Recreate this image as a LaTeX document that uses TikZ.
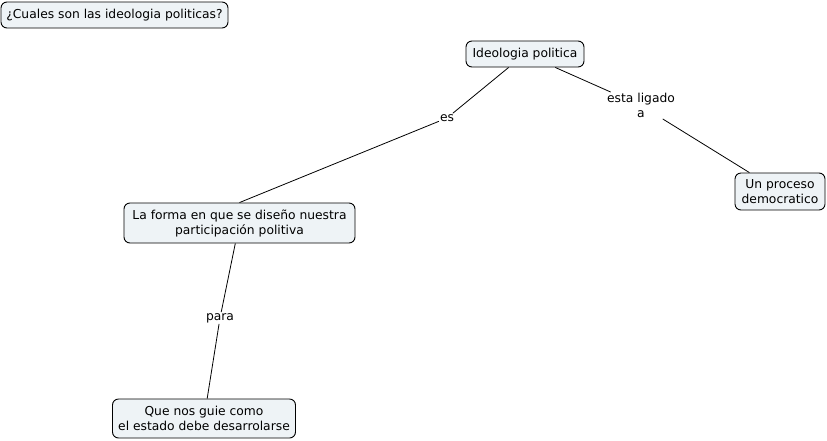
\documentclass[tikz,border=0pt]{standalone}
\usepackage{fontspec}
\setmainfont{DejaVu Sans}
\definecolor{boxfill}{RGB}{238,243,246}
\begin{document}
\begin{tikzpicture}[x=1pt,y=-1pt,
  concept/.style={draw=black,line width=0.9pt,fill=boxfill,rounded corners=6pt,
    inner sep=0pt,align=center,font=\fontsize{12.3}{15}\selectfont},
  linklbl/.style={inner sep=1pt,align=center,font=\fontsize{12.3}{15}\selectfont},
  conn/.style={draw=black,line width=0.8pt}]
\useasboundingbox (0,0) rectangle (827,440);
\node[concept,minimum width=227pt,minimum height=26pt] (q) at (114.5,15) {¿Cuales son las ideologia politicas?};
\node[concept,minimum width=118pt,minimum height=26pt] (ideo) at (525,54) {Ideologia politica};
\node[concept,minimum width=90pt,minimum height=37pt] (proc) at (780,191.5) {Un proceso\\democratico};
\node[concept,minimum width=231pt,minimum height=40pt] (lf) at (239.5,223) {La forma en que se diseño nuestra\\participación politiva};
\node[concept,minimum width=183pt,minimum height=39pt] (qn) at (204,418.5) {Que nos guie como\\el estado debe desarrolarse};
\node[linklbl] (es) at (447,118) {es};
\node[linklbl] (esta) at (641,105.5) {esta ligado\\a};
\node[linklbl] (para) at (220,318) {para};
\draw[conn] (ideo) -- (es);
\draw[conn] (es) -- (lf.north);
\draw[conn] (ideo) -- (esta);
\draw[conn] (esta) -- (proc);
\draw[conn] (lf) -- (para);
\draw[conn] (para) -- (qn);
\end{tikzpicture}
\end{document}
